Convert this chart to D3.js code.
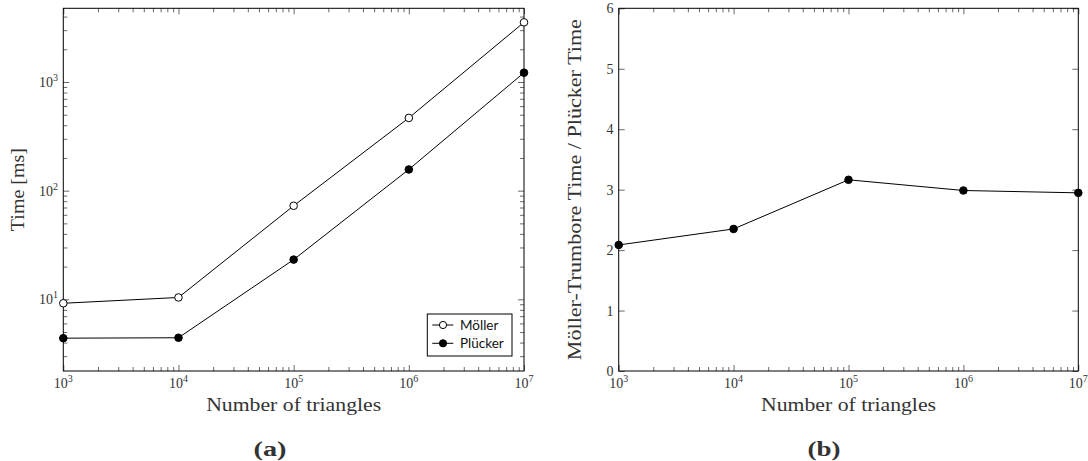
<!DOCTYPE html>
<html>
<head>
<meta charset="utf-8">
<script src="https://cdn.jsdelivr.net/npm/d3@7"></script>
<style>
  body { margin: 0; background: #fff; }
  text { font-family: "Liberation Serif", "Times New Roman", Times, serif; fill: #333; }
  .legend text { font-family: Lato, sans-serif; fill: #111; }
</style>
</head>
<body>
<div class="graph"></div>
<script>
// Data
const triangles = [1e3, 1e4, 1e5, 1e6, 1e7];
const mollerTime = [9.2, 10.4, 72.6, 467, 3540];
const pluckerTime = [4.39, 4.43, 23.2, 156.7, 1218];
const timeRatio = [2.085, 2.35, 3.163, 2.986, 2.947];

const xTickValues = [1e3, 1e4, 1e5, 1e6, 1e7];
const xTickExponents = ['3', '4', '5', '6', '7'];
const timeTickValues = [10, 100, 1000];
const timeTickExponents = ['1', '2', '3'];
const ratioTickValues = [0, 1, 2, 3, 4, 5, 6];
const seriesNames = ['Möller', 'Plücker'];

const W = 1088, H = 461;
const plotTop = 8.3, plotBottom = 371;

const svg = d3.select('.graph')
    .append('svg')
    .attr('width', W)
    .attr('height', H);

// minor ticks for a log scale: 2..9 x 10^n inside the domain
const logMinors = (lo, hi) => {
    const out = [];
    for (let e = Math.floor(Math.log10(lo)); e <= Math.ceil(Math.log10(hi)); e++) {
        for (let m = 2; m <= 9; m++) {
            const v = m * Math.pow(10, e);
            if (v > lo && v < hi) out.push(v);
        }
    }
    return out;
};

// draws the frame and inward ticks on all four sides
const drawFrame = (g, x, y, xMajor, xMinor, yMajor, yMinor) => {
    const [x0, x1] = x.range();
    const addAxis = (axis, tx, ty, values, size) => {
        const a = g.append('g')
            .attr('transform', `translate(${tx},${ty})`)
            .call(axis.tickValues(values).tickSize(-size).tickFormat(''));
        a.select('.domain').remove();
        a.selectAll('line').attr('stroke', '#444').attr('stroke-width', 0.8);
    };
    addAxis(d3.axisBottom(x), 0, plotBottom, xMajor, 6);
    addAxis(d3.axisBottom(x), 0, plotBottom, xMinor, 4);
    addAxis(d3.axisTop(x), 0, plotTop, xMajor, 6);
    addAxis(d3.axisTop(x), 0, plotTop, xMinor, 4);
    addAxis(d3.axisLeft(y), x0, 0, yMajor, 6);
    addAxis(d3.axisRight(y), x1, 0, yMajor, 6);
    if (yMinor.length) {
        addAxis(d3.axisLeft(y), x0, 0, yMinor, 4);
        addAxis(d3.axisRight(y), x1, 0, yMinor, 4);
    }
    g.append('rect')
        .attr('x', x0)
        .attr('y', plotTop)
        .attr('width', x1 - x0)
        .attr('height', plotBottom - plotTop)
        .attr('fill', 'none')
        .attr('stroke', '#000')
        .attr('stroke-width', 1);
};

// "10" with a superscript exponent
const powerLabel = (sel, exp) => {
    sel.append('tspan').text('10');
    sel.append('tspan').attr('dy', -6).attr('font-size', 10).text(exp);
};

const xLabels = (g, x) => {
    g.selectAll('.xlab')
        .data(xTickValues)
        .enter()
        .append('text')
        .attr('class', 'xlab')
        .attr('x', d => x(d))
        .attr('y', 388)
        .attr('text-anchor', 'middle')
        .attr('font-size', 14)
        .each(function(d, i) { powerLabel(d3.select(this), xTickExponents[i]); });

    g.append('text')
        .attr('x', d3.mean(x.range()))
        .attr('y', 411)
        .attr('text-anchor', 'middle')
        .attr('font-size', 19)
        .attr('textLength', 175)
        .attr('lengthAdjust', 'spacingAndGlyphs')
        .text('Number of triangles');
};

const drawSeries = (g, x, y, values, filled) => {
    const line = d3.line()
        .x((d, i) => x(triangles[i]))
        .y(d => y(d));
    g.append('path')
        .datum(values)
        .attr('d', line)
        .attr('fill', 'none')
        .attr('stroke', '#000')
        .attr('stroke-width', 1);
    g.selectAll(null)
        .data(values)
        .enter()
        .append('circle')
        .attr('cx', (d, i) => x(triangles[i]))
        .attr('cy', d => y(d))
        .attr('r', 3.8)
        .attr('fill', filled ? '#000' : '#fff')
        .attr('stroke', '#000')
        .attr('stroke-width', 1);
};

// ---------- (a) time on log-log axes ----------
const ga = svg.append('g');
const xA = d3.scaleLog().domain([1e3, 1e7]).range([63.3, 524]);
const yA = d3.scaleLog().domain([2.19, 4766]).range([plotBottom, plotTop]);

drawFrame(ga, xA, yA, xTickValues, logMinors(1e3, 1e7), timeTickValues, logMinors(2.19, 4766));
xLabels(ga, xA);

ga.selectAll('.ylab')
    .data(timeTickValues)
    .enter()
    .append('text')
    .attr('x', 58)
    .attr('y', d => yA(d) + 5)
    .attr('text-anchor', 'end')
    .attr('font-size', 14)
    .each(function(d, i) { powerLabel(d3.select(this), timeTickExponents[i]); });

ga.append('text')
    .attr('transform', `translate(24,${(plotTop + plotBottom) / 2}) rotate(-90)`)
    .attr('text-anchor', 'middle')
    .attr('font-size', 19)
    .attr('textLength', 83)
    .attr('lengthAdjust', 'spacingAndGlyphs')
    .text('Time [ms]');

drawSeries(ga, xA, yA, mollerTime, false);
drawSeries(ga, xA, yA, pluckerTime, true);

// Legend
const legend = ga.append('g').attr('class', 'legend');
legend.append('rect')
    .attr('x', 427.3)
    .attr('y', 314)
    .attr('width', 84.7)
    .attr('height', 42)
    .attr('fill', '#fff')
    .attr('stroke', '#000')
    .attr('stroke-width', 1);
const legendY = d3.scalePoint().domain(seriesNames).range([325, 343.3]);
seriesNames.forEach((name, i) => {
    const ly = legendY(name);
    legend.append('line')
        .attr('x1', 432.3).attr('x2', 453.3)
        .attr('y1', ly).attr('y2', ly)
        .attr('stroke', '#000');
    legend.append('circle')
        .attr('cx', 443).attr('cy', ly).attr('r', 3.6)
        .attr('fill', i === 0 ? '#fff' : '#000')
        .attr('stroke', '#000');
    legend.append('text')
        .attr('x', 460)
        .attr('y', ly + 4.8)
        .attr('font-size', 13.5)
        .text(name);
});

ga.append('text')
    .attr('x', 270)
    .attr('y', 456)
    .attr('text-anchor', 'middle')
    .attr('font-size', 20)
    .attr('font-weight', 'bold')
    .attr('textLength', 33)
    .attr('lengthAdjust', 'spacingAndGlyphs')
    .text('(a)');

// ---------- (b) ratio ----------
const gb = svg.append('g');
const xB = d3.scaleLog().domain([1e3, 1e7]).range([618.7, 1078.3]);
const yB = d3.scaleLinear().domain([0, 6]).range([plotBottom, plotTop]);

drawFrame(gb, xB, yB, xTickValues, logMinors(1e3, 1e7), ratioTickValues, []);
xLabels(gb, xB);

gb.selectAll('.ylab')
    .data(ratioTickValues)
    .enter()
    .append('text')
    .attr('x', 613.5)
    .attr('y', d => yB(d) + 5)
    .attr('text-anchor', 'end')
    .attr('font-size', 14)
    .text(d => d);

gb.append('text')
    .attr('transform', `translate(581,${(plotTop + plotBottom) / 2}) rotate(-90)`)
    .attr('text-anchor', 'middle')
    .attr('font-size', 19)
    .attr('textLength', 341)
    .attr('lengthAdjust', 'spacingAndGlyphs')
    .text('Möller-Trumbore Time / Plücker Time');

drawSeries(gb, xB, yB, timeRatio, true);

gb.append('text')
    .attr('x', 824)
    .attr('y', 456)
    .attr('text-anchor', 'middle')
    .attr('font-size', 20)
    .attr('font-weight', 'bold')
    .attr('textLength', 33)
    .attr('lengthAdjust', 'spacingAndGlyphs')
    .text('(b)');
</script>
</body>
</html>
